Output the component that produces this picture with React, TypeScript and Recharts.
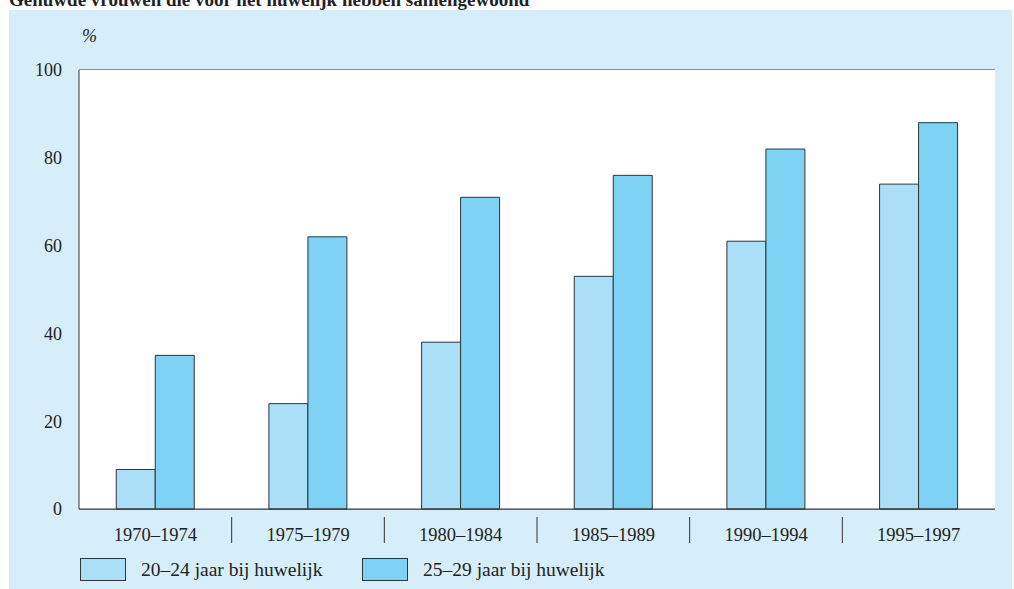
import { Bar, BarChart, CartesianGrid, XAxis, YAxis } from 'recharts';

const PERIODS = ['1970–1974', '1975–1979', '1980–1984', '1985–1989', '1990–1994', '1995–1997'];
const AGE_20_24 = [9, 24, 38, 53, 61, 74];
const AGE_25_29 = [35, 62, 71, 76, 82, 88];
const Y_TICKS = [0, 20, 40, 60, 80, 100];

const LIGHT = '#abdff8';
const DARK = '#7ed3f4';
const LINE = '#333';
const FONT = '"Liberation Serif", "DejaVu Serif", serif';

const data = PERIODS.map((p, i) => ({ period: p, a: AGE_20_24[i], b: AGE_25_29[i] }));

const PLOT_W = 916;
const HALF_BAND = PLOT_W / PERIODS.length / 2;

function PeriodTick(props: any) {
  const { x, y, payload, index } = props;
  return (
    <g>
      <text x={x} y={y + 24} textAnchor="middle" fontSize={18.5} fill="#222" fontFamily={FONT}>
        {payload.value}
      </text>
      {index < PERIODS.length - 1 && (
        <line x1={x + HALF_BAND} x2={x + HALF_BAND} y1={y} y2={y + 26} stroke={LINE} strokeWidth={1} />
      )}
    </g>
  );
}

function LegendItem({ color, label, left }: { color: string; label: string; left: number }) {
  return (
    <div style={{ position: 'absolute', left, top: 558, display: 'flex', alignItems: 'center' }}>
      <span
        style={{
          width: 46,
          height: 23,
          background: color,
          border: `1px solid ${LINE}`,
          boxSizing: 'border-box',
          display: 'inline-block',
        }}
      />
      <span style={{ marginLeft: 15, fontSize: 19.5, color: '#222', fontFamily: FONT }}>{label}</span>
    </div>
  );
}

export default function App() {
  return (
    <div style={{ position: 'absolute', left: 0, top: 0, width: 1014, height: 589, overflow: 'hidden', background: '#fff' }}>
      <div
        style={{
          position: 'absolute',
          left: 9,
          top: -10,
          fontSize: 19,
          fontWeight: 'bold',
          fontFamily: FONT,
          color: '#222',
          lineHeight: '19px',
          whiteSpace: 'nowrap',
        }}
      >
        Gehuwde vrouwen die voor het huwelijk hebben samengewoond
      </div>
      <div style={{ position: 'absolute', left: 9, top: 10, width: 1003, height: 579, background: '#d6eefa' }} />
      <div
        style={{
          position: 'absolute',
          left: 82,
          top: 26,
          fontSize: 18,
          fontStyle: 'italic',
          fontFamily: FONT,
          color: '#222',
        }}
      >
        %
      </div>
      <div style={{ position: 'absolute', left: 0, top: 0 }}>
        <BarChart
          width={1014}
          height={589}
          data={data}
          margin={{ top: 70, right: 19, left: 19, bottom: 50 }}
          barCategoryGap="24.4%"
          barGap={0}
        >
          <rect x={79} y={70} width={PLOT_W} height={439} fill="#fff" />
          <CartesianGrid horizontal vertical={false} stroke={LINE} strokeOpacity={1} />
          <XAxis
            dataKey="period"
            height={30}
            axisLine={{ stroke: LINE }}
            tickLine={false}
            tick={<PeriodTick />}
            interval={0}
          />
          <YAxis
            width={60}
            domain={[0, 100]}
            ticks={Y_TICKS}
            tickSize={0}
            tickMargin={17}
            axisLine={{ stroke: LINE }}
            tickLine={false}
            tick={{ fontSize: 18, fill: '#222', fontFamily: FONT }}
          />
          <YAxis yAxisId="r" orientation="right" width={0} domain={[0, 100]} tick={false} tickLine={false} axisLine={{ stroke: LINE }} />
          <Bar dataKey="a" fill={LIGHT} stroke={LINE} strokeWidth={1} isAnimationActive={false} />
          <Bar dataKey="b" fill={DARK} stroke={LINE} strokeWidth={1} isAnimationActive={false} />
        </BarChart>
      </div>
      <LegendItem color={LIGHT} label="20–24 jaar bij huwelijk" left={80} />
      <LegendItem color={DARK} label="25–29 jaar bij huwelijk" left={362} />
    </div>
  );
}
